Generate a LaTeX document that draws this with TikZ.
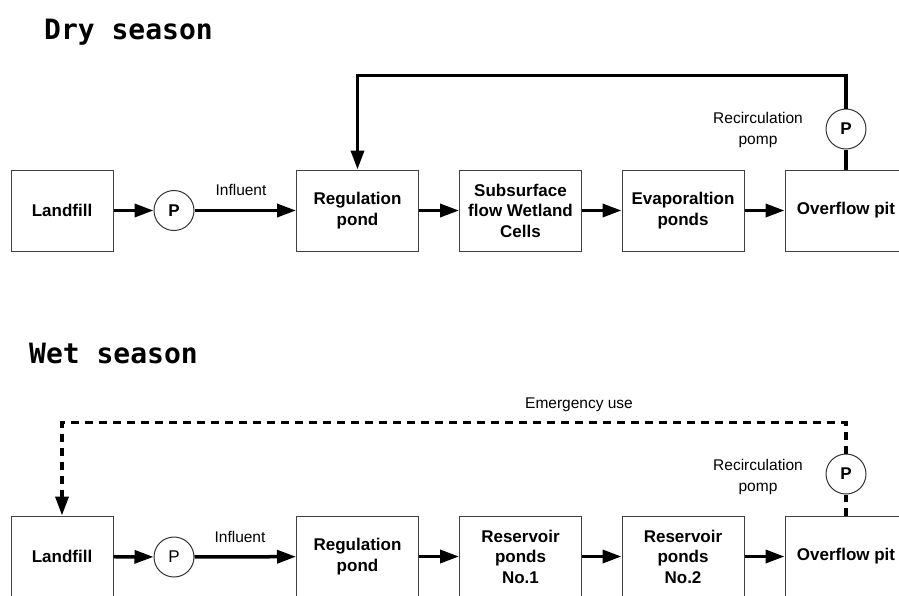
\documentclass[tikz,border=0pt]{standalone}
\usepackage{fontspec}
\setmainfont{Liberation Sans}
\newfontfamily\titlefont{DejaVu Sans Mono}
\usetikzlibrary{arrows.meta}
\tikzstyle{Box}=[draw=black!75,line width=1pt,minimum width=122pt,
minimum height=81pt,inner sep=2pt,align=center,
font=\fontsize{17}{20.5}\selectfont\bfseries]
\tikzstyle{Pump}=[circle,draw=black!80,line width=1pt,minimum size=40pt,
inner sep=0pt,font=\fontsize{17}{20}\selectfont]
\tikzstyle{Flow}=[draw=black,line width=3.5pt,
-{Triangle[length=19pt,width=13pt]}]
\tikzstyle{Pipe}=[draw=black,line width=3.5pt]
\tikzstyle{Backup}=[dash pattern=on 8pt off 6pt]
\tikzstyle{Label}=[font=\fontsize{15.5}{21}\selectfont,align=center]
\tikzstyle{Title}=[font=\fontsize{28}{30}\selectfont\titlefont\bfseries,
anchor=base west,inner sep=0pt]

\begin{document}
\begin{tikzpicture}[x=1pt,y=-1pt]
    \useasboundingbox (0,0) rectangle (899,595);
    \clip (0,0) rectangle (899,595);
        % dry season
        \node[Title](T1)at(44,39){Dry season};
        \node[Box,minimum width=102pt](LF1)at(62,210.5){Landfill};
        \node[Pump,font=\fontsize{17}{20}\selectfont\bfseries](P1)at(174,210.5){P};
        \node[Box](RP1)at(357.5,210.5){Regulation\\pond};
        \node[Box](SW1)at(520.5,210.5){Subsurface\\flow Wetland\\Cells};
        \node[Box](EP1)at(683,210.5){Evaporaltion\\ponds};
        \node[Box](OP1)at(846,210.5){Overflow pit};
        \node[Pump,font=\fontsize{17}{20}\selectfont\bfseries](PR1)at(846,129){P};
        \node[Label](I1)at(241,190){Influent};
        \node[Label](RC1)at(758,129.5){Recirculation\\pomp};
        \draw[Flow](LF1)--(P1);
        \draw[Flow](P1)--(RP1);
        \draw[Flow](RP1)--(SW1);
        \draw[Flow](SW1)--(EP1);
        \draw[Flow](EP1)--(OP1);
        \draw[Pipe](OP1)--(PR1);
        \draw[Flow](PR1.north)--++(0,-33)-|(RP1.north);
        % wet season
        \node[Title](T2)at(29,363){Wet season};
        \node[Box,minimum width=102pt](LF2)at(62,556.5){Landfill};
        \node[Pump](P2)at(174,557){P};
        \node[Box](RP2)at(357.5,556.5){Regulation\\pond};
        \node[Box](RS1)at(520.5,556.5){Reservoir\\ponds\\No.1};
        \node[Box](RS2)at(683,556.5){Reservoir\\ponds\\No.2};
        \node[Box](OP2)at(846,556.5){Overflow pit};
        \node[Pump,font=\fontsize{17}{20}\selectfont\bfseries](PR2)at(846,474){P};
        \node[Label](I2)at(240,537){Influent};
        \node[Label](RC2)at(758,476.5){Recirculation\\pomp};
        \node[Label](E2)at(579,405){Emergency use};
        \draw[Flow](LF2)--(P2);
        \draw[Flow](P2)--(RP2);
        \draw[Flow](RP2)--(RS1);
        \draw[Flow](RS1)--(RS2);
        \draw[Flow](RS2)--(OP2);
        \draw[Pipe,Backup](OP2)--(PR2);
        \draw[Flow,Backup](PR2.north)--++(0,-31)-|(LF2.north);
\end{tikzpicture}
\end{document}
